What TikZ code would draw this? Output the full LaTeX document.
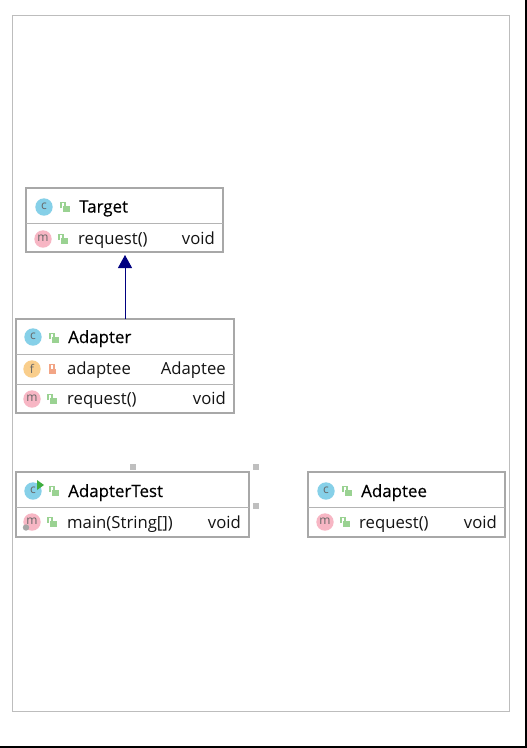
\documentclass[tikz,border=0pt]{standalone}
\usepackage{fontspec}
\setmainfont{Open Sans}
\usetikzlibrary{arrows.meta}
\definecolor{boxgray}{HTML}{A8A8A8}
\definecolor{divgray}{HTML}{B4B4B4}
\definecolor{framegray}{HTML}{BDBDBD}
\definecolor{cblue}{HTML}{86D0E8}
\definecolor{mpink}{HTML}{F7B6C4}
\definecolor{forange}{HTML}{F9CE8C}
\definecolor{lgreen}{HTML}{9AD292}
\definecolor{lred}{HTML}{F2A586}
\definecolor{arrownavy}{HTML}{000080}
\definecolor{playgreen}{HTML}{3FAE3F}
\newfontfamily\titlefont[FakeBold=0.35]{Open Sans}
\tikzset{
  umlbox/.style={draw=boxgray,line width=2pt,fill=white,inner sep=0pt,outer sep=0pt,anchor=north west},
  divider/.style={draw=divgray,line width=1pt},
  txt/.style={anchor=base west,inner sep=0pt,font=\fontsize{16.7}{19}\selectfont,text=black!92},
  rtxt/.style={anchor=base east,inner sep=0pt,font=\fontsize{16.7}{19}\selectfont,text=black!92},
  titletxt/.style={anchor=base west,inner sep=0pt,font=\titlefont\fontsize{16.9}{19}\selectfont,text=black},
  icontxt/.style={inner sep=0pt,font=\fontsize{12}{13}\selectfont,text=black!60},
  handle/.style={fill=black!25,draw=none,minimum size=6pt,inner sep=0pt},
  inherit/.style={draw=arrownavy,line width=1pt,-{Triangle[length=13pt,width=14pt,fill=arrownavy]}},
}
% icon circle: #1 x, #2 y, #3 colour, #4 letter
\newcommand{\iconat}[4]{%
  \fill[#3] (#1,#2) circle[radius=8.7pt];
  \node[icontxt] at (#1,#2-0.5) {#4};}
% open padlock
\newcommand{\openlock}[2]{%
  \fill[lgreen] (#1-2.5,#2-1.5) rectangle (#1+5,#2+5);
  \draw[lgreen,line width=1.4pt] (#1-4,#2+1) -- (#1-4,#2-4.5) -- (#1,#2-4.5) -- (#1,#2-1);}
\newcommand{\closedlock}[2]{%
  \fill[lred] (#1-3.5,#2-0.5) rectangle (#1+3.5,#2+5);
  \draw[lred,line width=1.4pt] (#1-2,#2) -- (#1-2,#2-4.5) -- (#1+2,#2-4.5) -- (#1+2,#2);}
\begin{document}
\begin{tikzpicture}[x=1pt,y=-1pt]
\useasboundingbox (0,0) rectangle (527,748);
\fill[white] (0,0) rectangle (527,748);
% outer frame and page edges
\draw[framegray,line width=1pt] (12.5,15.5) rectangle (509.5,711.5);
\draw[black,line width=1.5pt] (0,747.2) -- (527,747.2);
\draw[black,line width=1.5pt] (526.2,0) -- (526.2,748);
% boxes
\node[umlbox,minimum width=197pt,minimum height=64pt] (target) at (26,188) {};
\node[umlbox,minimum width=218pt,minimum height=94pt] (adapter) at (16,319) {};
\node[umlbox,minimum width=233pt,minimum height=65pt] (adaptertest) at (16,472) {};
\node[umlbox,minimum width=197pt,minimum height=65pt] (adaptee) at (308,472) {};
% dividers
\draw[divider] (target.west |- 0,223) -- (target.east |- 0,223);
\draw[divider] (adapter.west |- 0,354) -- (adapter.east |- 0,354);
\draw[divider] (adapter.west |- 0,384) -- (adapter.east |- 0,384);
\draw[divider] (adaptertest.west |- 0,507) -- (adaptertest.east |- 0,507);
\draw[divider] (adaptee.west |- 0,507) -- (adaptee.east |- 0,507);
% Target
\iconat{44}{207}{cblue}{c}
\openlock{65}{207}
\node[titletxt] (t1) at (79,212.5) {Target};
\iconat{43}{239}{mpink}{m}
\openlock{63}{239}
\node[txt] (t2) at (78,244) {request()};
\node[rtxt] (t3) at (215,244) {void};
% Adapter
\iconat{33}{337}{cblue}{c}
\openlock{54}{338}
\node[titletxt] (a1) at (68,343) {Adapter};
\iconat{32}{369}{forange}{f}
\closedlock{52}{369}
\node[txt] (a2) at (67,374.5) {adaptee};
\node[rtxt] (a3) at (226,374.5) {Adaptee};
\iconat{32}{399}{mpink}{m}
\openlock{52}{399}
\node[txt] (a4) at (67,404) {request()};
\node[rtxt] (a5) at (226,404) {void};
% AdapterTest
\iconat{33}{491}{cblue}{c}
\fill[playgreen] (37,480) -- (44,485) -- (37,490) -- cycle;
\openlock{54}{491}
\node[titletxt] (b1) at (68,497) {AdapterTest};
\iconat{32}{522}{mpink}{m}
\fill[black!35] (26,527.5) circle[radius=3.2pt];
\openlock{52}{522}
\node[txt] (b2) at (67,528) {main(String[])};
\node[rtxt] (b3) at (241,528) {void};
% Adaptee
\iconat{326}{491}{cblue}{c}
\openlock{347}{491}
\node[titletxt] (c1) at (361,497) {Adaptee};
\iconat{325}{522}{mpink}{m}
\openlock{345}{522}
\node[txt] (c2) at (359,528) {request()};
\node[rtxt] (c3) at (497,528) {void};
% selection handles
\node[handle] (h1) at (133,466.5) {};
\node[handle] (h2) at (256,466.5) {};
\node[handle] (h3) at (256,505.5) {};
% inheritance
\draw[inherit] (adapter.north -| 125,0) -- (125,255);
\end{tikzpicture}
\end{document}
